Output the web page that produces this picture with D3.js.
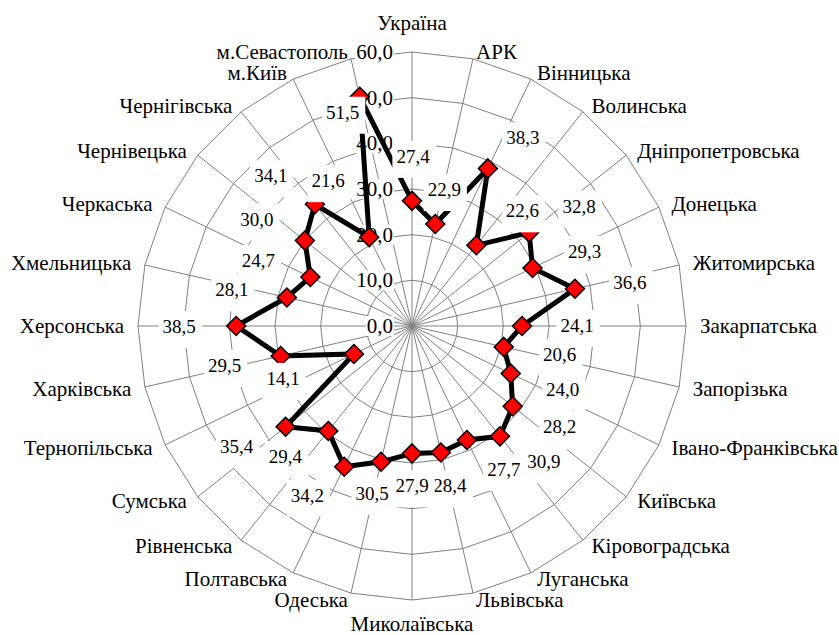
<!DOCTYPE html>
<html>
<head>
<meta charset="utf-8">
<script src="https://cdn.jsdelivr.net/npm/d3@7"></script>
<style>
html, body { margin: 0; padding: 0; background: #fff; }
svg { display: block; }
</style>
</head>
<body>
<svg id="chart" width="839" height="635"></svg>
<script>
const categories = ["Україна", "АРК", "Вінницька", "Волинська", "Дніпропетровська", "Донецька",
  "Житомирська", "Закарпатська", "Запорізька", "Івано-Франківська", "Київська", "Кіровоградська",
  "Луганська", "Львівська", "Миколаївська", "Одеська", "Полтавська", "Рівненська", "Сумська",
  "Тернопільська", "Харківська", "Херсонська", "Хмельницька", "Черкаська", "Чернівецька",
  "Чернігівська", "м.Київ", "м.Севастополь"];
const values = [27.4, 22.9, 38.3, 22.6, 32.8, 29.3, 36.6, 24.1, 20.6, 24.0, 28.2, 30.9, 27.7, 28.4,
  27.9, 30.5, 34.2, 29.4, 35.4, 14.1, 29.5, 38.5, 28.1, 24.7, 30.0, 34.1, 21.6, 51.5];
const axisTicks = [0, 10, 20, 30, 40, 50, 60];
// layout: offset of each data label centre from its marker (px)
const labelOffsets = [[1,-45],[9,-35],[35,-31],[46,-35],[50,-27],[52,-17],[55,-7],[55,-1],[56,7],
  [52,15],[47,20],[44,25],[37,29],[9,33],[0,32],[-9,31],[-37,28],[-43,25],[-49,19],[-71,24],
  [-56,9],[-57,0],[-55,-8],[-52,-17],[-48,-22],[-44,-29],[-41,-57],[-17,15]];

const FONT = "'Liberation Serif', 'Times New Roman', Tinos, 'DejaVu Serif', serif";
const cx = 412, cy = 326, R = 274;
const fontSize = 21, labelFontSize = 19;
const fmt = v => d3.format(".1f")(v).replace(".", ",");

const svg = d3.select("#chart").attr("font-family", FONT).style("font-family", FONT);
svg.append("rect").attr("width", 839).attr("height", 635).attr("fill", "#fff");
const g = svg.append("g").attr("transform", `translate(${cx},${cy})`);

const r = d3.scaleLinear().domain([0, 60]).range([0, R]);
const n = categories.length;
const ang = d3.scalePoint().domain(categories).range([0, 2 * Math.PI * (n - 1) / n]);
const px = (c, rad) => rad * Math.sin(ang(c));
const py = (c, rad) => -rad * Math.cos(ang(c));

function txt(sel, size) {
  return sel.attr("font-family", FONT).style("font-family", FONT).attr("font-size", size || fontSize).attr("fill", "#000");
}

// rings (polygonal)
const ringLine = d3.lineRadial().angle(c => ang(c)).curve(d3.curveLinearClosed);
const gridG = g.append("g").attr("fill", "none").attr("stroke", "#808080").attr("stroke-width", 1);
axisTicks.filter(t => t > 0).forEach(t => {
  gridG.append("path").attr("d", ringLine.radius(() => r(t))(categories));
});
// spokes
gridG.selectAll("line.spoke").data(categories).join("line")
  .attr("x1", 0).attr("y1", 0)
  .attr("x2", c => px(c, r(60))).attr("y2", c => py(c, r(60)));

// axis labels
const axG = g.append("g");
axisTicks.forEach(t => {
  const t0 = txt(axG.append("text")).attr("x", -19).attr("y", -r(t) + 7)
    .attr("text-anchor", "end").text(fmt(t));
  const bb = t0.node().getBBox();
  axG.insert("rect", () => t0.node())
    .attr("x", bb.x - 1).attr("y", bb.y + 2).attr("width", bb.width + 2).attr("height", bb.height - 4)
    .attr("fill", "#fff");
});

// category labels
const catG = g.append("g");
categories.forEach(c => {
  const a = ang(c);
  const s = Math.sin(a), co = Math.cos(a);
  let x = 288 * s, y = -281 * co + 7, anchor = s > 0.01 ? "start" : (s < -0.01 ? "end" : "middle");
  if (Math.abs(s) < 0.01) {
    x = 0;
    y = co > 0 ? -296 : 305;
  }
  txt(catG.append("text")).attr("x", x).attr("y", y).attr("text-anchor", anchor).text(c);
});

// data line
const pts = categories.map((c, i) => ({ c, v: values[i], i }));
const dataLine = d3.lineRadial().angle(d => ang(d.c)).radius(d => r(d.v)).curve(d3.curveLinearClosed);
g.append("path").attr("d", dataLine(pts)).attr("fill", "none")
  .attr("stroke", "#000").attr("stroke-width", 5).attr("stroke-linejoin", "miter");

// markers
const m = 9.5;
g.selectAll("path.mk").data(pts).join("path")
  .attr("class", "mk")
  .attr("transform", d => `translate(${px(d.c, r(d.v))},${py(d.c, r(d.v))})`)
  .attr("d", `M0,${-m}L${m},0L0,${m}L${-m},0Z`)
  .attr("fill", "#ff0000").attr("stroke", "#000").attr("stroke-width", 1.5);

// data labels with white boxes
const lblG = g.append("g");
pts.forEach(d => {
  const x = px(d.c, r(d.v)) + labelOffsets[d.i][0];
  const y = py(d.c, r(d.v)) + labelOffsets[d.i][1];
  const gg = lblG.append("g");
  const rect = gg.append("rect").attr("fill", "#fff");
  const t = txt(gg.append("text"), labelFontSize).attr("x", x).attr("y", y + 7).attr("text-anchor", "middle").text(fmt(d.v));
  const bb = t.node().getBBox();
  rect.attr("x", bb.x - 4).attr("y", y + 7 - 22).attr("width", bb.width + 10).attr("height", 37);
});
</script>
</body>
</html>
